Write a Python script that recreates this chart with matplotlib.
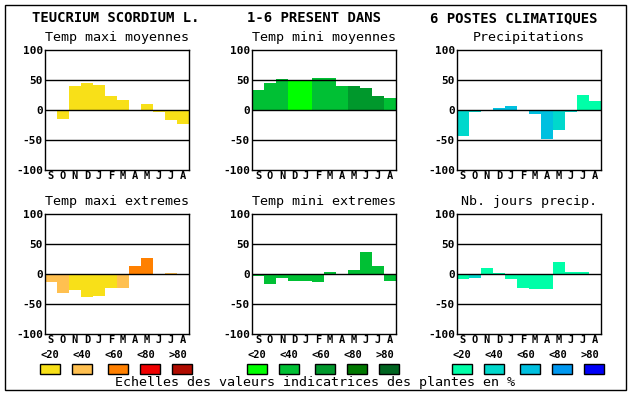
"""
plot.py -- Teucrium scordium climatic indicator bars (6 panels), saves out.png.
"""
import matplotlib
matplotlib.use("Agg")
import matplotlib.pyplot as plt
from matplotlib.patches import Rectangle

months = ["S", "O", "N", "D", "J", "F", "M", "A", "M", "J", "J", "A"]
scale_labels = ["<20", "<40", "<60", "<80", ">80"]

# palettes (class 0..4)
warm = ["#f8e018", "#ffc050", "#ff8000", "#f00000", "#b00c00"]
green = ["#00ff00", "#00c034", "#00982c", "#007800", "#006420"]
blue = ["#00ffa8", "#00d8cc", "#00c0e0", "#0098f0", "#0000f8"]

titles = ["Temp maxi moyennes", "Temp mini moyennes", "Precipitations",
          "Temp maxi extremes", "Temp mini extremes", "Nb. jours precip."]

tmax_moy = [0, -15, 40, 45, 42, 24, 17, 0, 10, -3, -16, -23]
tmax_moy_cls = [0, 0, 0, 0, 0, 0, 0, 0, 0, 0, 0, 0]
tmin_moy = [33, 45, 52, 48, 50, 54, 54, 40, 40, 37, 24, 20]
tmin_moy_cls = [1, 1, 1, 0, 0, 1, 1, 1, 2, 2, 2, 1]
precip = [-43, -4, 0, 3, 7, 0, -6, -48, -33, -4, 25, 15]
precip_cls = [1, 1, 0, 2, 2, 0, 2, 2, 1, 1, 0, 0]
tmax_ext = [-14, -31, -26, -38, -36, -24, -24, 14, 27, 0, 2, -2]
tmax_ext_cls = [1, 1, 0, 0, 0, 0, 1, 2, 2, 1, 1, 1]
tmin_ext = [-4, -16, -6, -12, -12, -14, 4, 0, 7, 36, 14, -12]
tmin_ext_cls = [1, 1, 1, 1, 1, 1, 1, 1, 1, 1, 1, 1]
jours = [-8, -6, 10, 2, -8, -23, -25, -25, 20, 4, 4, 0]
jours_cls = [0, 1, 0, 0, 0, 0, 0, 0, 0, 0, 0, 0]

panels = [(tmax_moy, tmax_moy_cls, warm), (tmin_moy, tmin_moy_cls, green),
          (precip, precip_cls, blue), (tmax_ext, tmax_ext_cls, warm),
          (tmin_ext, tmin_ext_cls, green), (jours, jours_cls, blue)]

W, H = 630, 394
MONO = "DejaVu Sans Mono"
fig = plt.figure(figsize=(W / 100, H / 100), dpi=100)
fig.patch.set_facecolor("white")

col_left = [45, 252, 457]
row_top = [50, 214]
aw, ah = 144, 120

for i, (vals, cls, pal) in enumerate(panels):
    r, c = divmod(i, 3)
    x0, y0 = col_left[c], row_top[r]
    ax = fig.add_axes([x0 / W, 1 - (y0 + ah) / H, aw / W, ah / H])
    ax.bar(range(12), vals, width=1.0, color=[pal[k] for k in cls],
           linewidth=0, zorder=2)
    for y in (-50, 0, 50):
        ax.axhline(y, color="black", lw=1, zorder=3)
    ax.set_xlim(-0.5, 11.5); ax.set_ylim(-100, 100)
    ax.set_yticks([-100, -50, 0, 50, 100])
    ax.set_yticklabels(["-100", "-50", "0", "50", "100"], family=MONO,
                       fontsize=8, fontweight="bold")
    ax.set_xticks(range(12))
    ax.set_xticklabels(months, family=MONO, fontsize=7.5, fontweight="bold")
    ax.tick_params(axis="x", length=0, pad=1)
    ax.tick_params(axis="y", length=0, pad=1.5)
    for s in ax.spines.values():
        s.set_linewidth(1); s.set_zorder(4)
    fig.text((x0 + aw / 2) / W, 1 - (y0 - 12) / H, titles[i], family=MONO,
             fontsize=9.6, ha="center", va="center")

# overlay in pixel coordinates for title, legend and frame
ov = fig.add_axes([0, 0, 1, 1], zorder=-1)
ov.set_xlim(0, W); ov.set_ylim(H, 0); ov.axis("off")
ov.add_patch(Rectangle((4.5, 4.5), 621.5, 385.5, fill=False, ec="black", lw=1))

ov.text(31.5, 18, "TEUCRIUM SCORDIUM L.", family=MONO, fontsize=10,
        fontweight="bold", ha="left", va="center")
ov.text(247, 18, "1-6 PRESENT DANS", family=MONO, fontsize=10,
        fontweight="bold", ha="left", va="center")
ov.text(597, 18, "6 POSTES CLIMATIQUES", family=MONO, fontsize=10,
        fontweight="bold", ha="right", va="center")

box_dx = [0, 32, 68, 100, 132]
for c, pal in enumerate([warm, green, blue]):
    bl = col_left[c] - 5.5
    for k in range(5):
        ov.text(bl + 10 + 32 * k, 355, scale_labels[k], family=MONO,
                fontsize=7.5, fontweight="bold", ha="center", va="center")
        ov.add_patch(Rectangle((bl + box_dx[k], 364), 20, 9.5,
                               fc=pal[k], ec="black", lw=1))

ov.text(315, 382.5, "Echelles des valeurs indicatrices des plantes en %",
        family=MONO, fontsize=9.6, ha="center", va="center")

fig.savefig("out.png", dpi=100)
